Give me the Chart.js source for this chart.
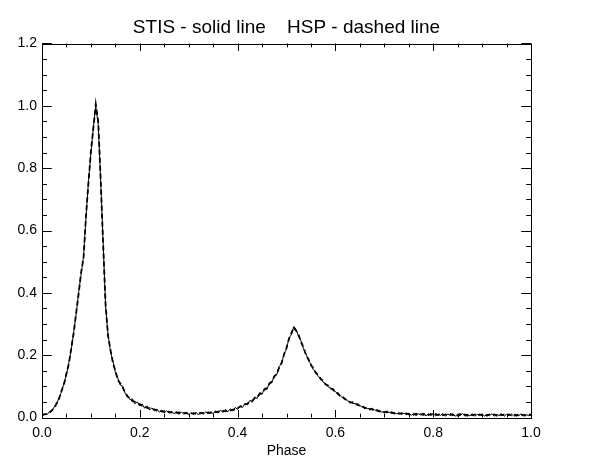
<!DOCTYPE html>
<html>
<head>
<meta charset="utf-8">
<script src="https://cdn.jsdelivr.net/npm/chart.js@4/dist/chart.umd.min.js"></script>
<style>
  html, body { margin: 0; padding: 0; background: #fff; }
  #holder { width: 615px; height: 460px; position: relative; }
</style>
</head>
<body>
<div id="holder"><canvas id="pulse"></canvas></div>
<script>
// phase grid, step 0.005
let phase = [
  0.000, 0.005, 0.010, 0.015, 0.020, 0.025, 0.030, 0.035, 0.040, 0.045,
  0.050, 0.055, 0.060, 0.065, 0.070, 0.075, 0.080, 0.085, 0.090, 0.095,
  0.100, 0.105, 0.110, 0.115, 0.120, 0.125, 0.130, 0.135, 0.140, 0.145,
  0.150, 0.155, 0.160, 0.165, 0.170, 0.175, 0.180, 0.185, 0.190, 0.195,
  0.200, 0.205, 0.210, 0.215, 0.220, 0.225, 0.230, 0.235, 0.240, 0.245,
  0.250, 0.255, 0.260, 0.265, 0.270, 0.275, 0.280, 0.285, 0.290, 0.295,
  0.300, 0.305, 0.310, 0.315, 0.320, 0.325, 0.330, 0.335, 0.340, 0.345,
  0.350, 0.355, 0.360, 0.365, 0.370, 0.375, 0.380, 0.385, 0.390, 0.395,
  0.400, 0.405, 0.410, 0.415, 0.420, 0.425, 0.430, 0.435, 0.440, 0.445,
  0.450, 0.455, 0.460, 0.465, 0.470, 0.475, 0.480, 0.485, 0.490, 0.495,
  0.500, 0.505, 0.510, 0.515, 0.520, 0.525, 0.530, 0.535, 0.540, 0.545,
  0.550, 0.555, 0.560, 0.565, 0.570, 0.575, 0.580, 0.585, 0.590, 0.595,
  0.600, 0.605, 0.610, 0.615, 0.620, 0.625, 0.630, 0.635, 0.640, 0.645,
  0.650, 0.655, 0.660, 0.665, 0.670, 0.675, 0.680, 0.685, 0.690, 0.695,
  0.700, 0.705, 0.710, 0.715, 0.720, 0.725, 0.730, 0.735, 0.740, 0.745,
  0.750, 0.755, 0.760, 0.765, 0.770, 0.775, 0.780, 0.785, 0.790, 0.795,
  0.800, 0.805, 0.810, 0.815, 0.820, 0.825, 0.830, 0.835, 0.840, 0.845,
  0.850, 0.855, 0.860, 0.865, 0.870, 0.875, 0.880, 0.885, 0.890, 0.895,
  0.900, 0.905, 0.910, 0.915, 0.920, 0.925, 0.930, 0.935, 0.940, 0.945,
  0.950, 0.955, 0.960, 0.965, 0.970, 0.975, 0.980, 0.985, 0.990, 0.995,
  1.000
]

// STIS - solid line
let stis = [
  0.004, 0.012, 0.009, 0.018, 0.020, 0.034, 0.043, 0.064, 0.083, 0.110,
  0.138, 0.177, 0.220, 0.277, 0.333, 0.402, 0.460, 0.518, 0.642, 0.757,
  0.848, 0.932, 0.998, 0.940, 0.758, 0.562, 0.358, 0.268, 0.212, 0.181,
  0.145, 0.127, 0.104, 0.101, 0.077, 0.071, 0.057, 0.060, 0.044, 0.050,
  0.037, 0.043, 0.030, 0.037, 0.024, 0.031, 0.021, 0.027, 0.017, 0.024,
  0.015, 0.022, 0.013, 0.020, 0.012, 0.019, 0.010, 0.018, 0.010, 0.017,
  0.008, 0.016, 0.009, 0.017, 0.008, 0.017, 0.010, 0.019, 0.011, 0.019,
  0.012, 0.022, 0.014, 0.024, 0.016, 0.026, 0.018, 0.028, 0.021, 0.032,
  0.026, 0.038, 0.032, 0.045, 0.040, 0.055, 0.049, 0.066, 0.061, 0.080,
  0.074, 0.094, 0.090, 0.112, 0.111, 0.135, 0.137, 0.164, 0.172, 0.205,
  0.219, 0.255, 0.266, 0.292, 0.281, 0.259, 0.245, 0.219, 0.204, 0.182,
  0.172, 0.153, 0.147, 0.131, 0.127, 0.113, 0.109, 0.098, 0.096, 0.086,
  0.084, 0.073, 0.071, 0.062, 0.061, 0.053, 0.051, 0.045, 0.045, 0.039,
  0.039, 0.033, 0.033, 0.028, 0.029, 0.024, 0.025, 0.020, 0.022, 0.017,
  0.019, 0.015, 0.017, 0.013, 0.016, 0.012, 0.015, 0.010, 0.014, 0.009,
  0.014, 0.007, 0.013, 0.006, 0.012, 0.008, 0.014, 0.005, 0.012, 0.007,
  0.013, 0.005, 0.011, 0.007, 0.013, 0.004, 0.011, 0.006, 0.013, 0.004,
  0.011, 0.006, 0.013, 0.004, 0.010, 0.006, 0.012, 0.004, 0.010, 0.006,
  0.012, 0.004, 0.010, 0.006, 0.012, 0.004, 0.010, 0.006, 0.012, 0.004,
  0.010, 0.006, 0.012, 0.004, 0.010, 0.006, 0.012, 0.004, 0.009, 0.006,
  0.008
]

// HSP - dashed line
let hsp = [
  0.008, 0.010, 0.012, 0.015, 0.023, 0.030, 0.046, 0.061, 0.086, 0.107,
  0.141, 0.173, 0.224, 0.273, 0.337, 0.398, 0.465, 0.512, 0.648, 0.752,
  0.853, 0.928, 1.005, 0.950, 0.763, 0.557, 0.362, 0.263, 0.217, 0.176,
  0.150, 0.120, 0.110, 0.096, 0.081, 0.067, 0.061, 0.053, 0.050, 0.044,
  0.043, 0.037, 0.036, 0.031, 0.030, 0.026, 0.026, 0.022, 0.023, 0.019,
  0.020, 0.017, 0.019, 0.016, 0.017, 0.015, 0.016, 0.014, 0.015, 0.013,
  0.014, 0.012, 0.014, 0.012, 0.014, 0.013, 0.015, 0.014, 0.016, 0.015,
  0.017, 0.017, 0.019, 0.018, 0.021, 0.020, 0.023, 0.022, 0.025, 0.025,
  0.030, 0.035, 0.036, 0.042, 0.044, 0.051, 0.054, 0.062, 0.066, 0.075,
  0.079, 0.089, 0.095, 0.108, 0.116, 0.131, 0.140, 0.160, 0.176, 0.202,
  0.224, 0.252, 0.271, 0.289, 0.278, 0.264, 0.241, 0.224, 0.200, 0.187,
  0.168, 0.158, 0.143, 0.136, 0.123, 0.118, 0.106, 0.103, 0.093, 0.091,
  0.081, 0.078, 0.068, 0.067, 0.058, 0.057, 0.048, 0.049, 0.042, 0.043,
  0.036, 0.037, 0.030, 0.032, 0.026, 0.028, 0.022, 0.024, 0.019, 0.021,
  0.016, 0.019, 0.014, 0.017, 0.013, 0.016, 0.012, 0.014, 0.011, 0.013,
  0.010, 0.012, 0.009, 0.012, 0.008, 0.011, 0.009, 0.012, 0.008, 0.011,
  0.007, 0.011, 0.008, 0.012, 0.007, 0.010, 0.008, 0.011, 0.007, 0.010,
  0.006, 0.011, 0.007, 0.010, 0.006, 0.011, 0.007, 0.010, 0.006, 0.010,
  0.007, 0.011, 0.006, 0.010, 0.007, 0.010, 0.006, 0.011, 0.007, 0.010,
  0.006, 0.010, 0.007, 0.011, 0.006, 0.010, 0.007, 0.009, 0.006, 0.010,
  0.008
]

let xTicks = [0.0, 0.2, 0.4, 0.6, 0.8, 1.0]
let yTicks = [0.0, 0.2, 0.4, 0.6, 0.8, 1.0, 1.2]
let minorStep = 0.05
let titleText = "STIS - solid line    HSP - dashed line"

let font = "'Liberation Sans', Arial, Helvetica, sans-serif"

function points(ys){
    return phase.map(function(p, i){
        return {x: p, y: ys[i]}
    })
}

// IDL style box: frame, inward ticks on all four sides, title
let idlBox = {
    id: 'idlBox',
    afterDraw(chart){
        let ctx = chart.ctx
        let a = chart.chartArea
        let xs = chart.scales.x
        let ys = chart.scales.y
        ctx.save()
        ctx.strokeStyle = '#000'
        ctx.lineWidth = 1
        ctx.strokeRect(Math.round(a.left) + 0.5, Math.round(a.top) + 0.5,
            Math.round(a.right - a.left), Math.round(a.bottom - a.top))
        ctx.beginPath()
        for (let v = 0; v <= 1.0001; v += minorStep){
            let major = Math.abs(v / 0.2 - Math.round(v / 0.2)) < 1e-6
            let len = major ? 7.5 : 3.8
            let px = Math.round(xs.getPixelForValue(v)) + 0.5
            ctx.moveTo(px, a.bottom)
            ctx.lineTo(px, a.bottom - len)
            ctx.moveTo(px, a.top)
            ctx.lineTo(px, a.top + len)
        }
        for (let v = 0; v <= 1.2001; v += minorStep){
            let major = Math.abs(v / 0.2 - Math.round(v / 0.2)) < 1e-6
            let len = major ? 9.8 : 4.9
            let py = Math.round(ys.getPixelForValue(v)) + 0.5
            ctx.moveTo(a.left, py)
            ctx.lineTo(a.left + len, py)
            ctx.moveTo(a.right, py)
            ctx.lineTo(a.right - len, py)
        }
        ctx.stroke()
        ctx.fillStyle = '#000'
        ctx.font = "19px " + font
        ctx.textAlign = 'center'
        ctx.textBaseline = 'middle'
        ctx.fillText(titleText, (a.left + a.right) / 2, 28)
        ctx.restore()
    }
}

let canvas = document.querySelector("#pulse")

let chart = new Chart(
    canvas,
    {
        type: 'line',
        data: {
            datasets: [
                {
                    label: "HSP",
                    data: points(hsp),
                    borderColor: '#000',
                    borderWidth: 1.8,
                    borderDash: [5, 3],
                    pointRadius: 0,
                    tension: 0
                },
                {
                    label: "STIS",
                    data: points(stis),
                    borderColor: '#000',
                    borderWidth: 1,
                    pointRadius: 0,
                    tension: 0
                }
            ]
        },
        options: {
            responsive: true,
            maintainAspectRatio: false,
            animation: false,
            layout: {
                padding: {top: 43.5, right: 84, left: 0, bottom: 0}
            },
            plugins: {
                legend: {display: false},
                title: {display: false},
                tooltip: {enabled: false}
            },
            scales: {
                x: {
                    type: 'linear',
                    min: 0,
                    max: 1,
                    afterFit(scale){ scale.height = 42.5 },
                    afterBuildTicks(scale){
                        scale.ticks = xTicks.map(function(v){ return {value: v} })
                    },
                    grid: {display: false, drawTicks: false},
                    border: {display: false},
                    ticks: {
                        padding: 7,
                        color: '#000',
                        font: {family: font, size: 14},
                        callback: function(v){ return v.toFixed(1) }
                    },
                    title: {
                        display: true,
                        text: 'Phase',
                        color: '#000',
                        padding: {top: 0, bottom: 0},
                        font: {family: font, size: 14}
                    }
                },
                y: {
                    type: 'linear',
                    min: 0,
                    max: 1.2,
                    afterFit(scale){ scale.width = 42 },
                    afterBuildTicks(scale){
                        scale.ticks = yTicks.map(function(v){ return {value: v} })
                    },
                    grid: {display: false, drawTicks: false},
                    border: {display: false},
                    ticks: {
                        padding: 5,
                        color: '#000',
                        font: {family: font, size: 14},
                        callback: function(v){ return v.toFixed(1) }
                    }
                }
            }
        },
        plugins: [idlBox]
    }
)
</script>
</body>
</html>
